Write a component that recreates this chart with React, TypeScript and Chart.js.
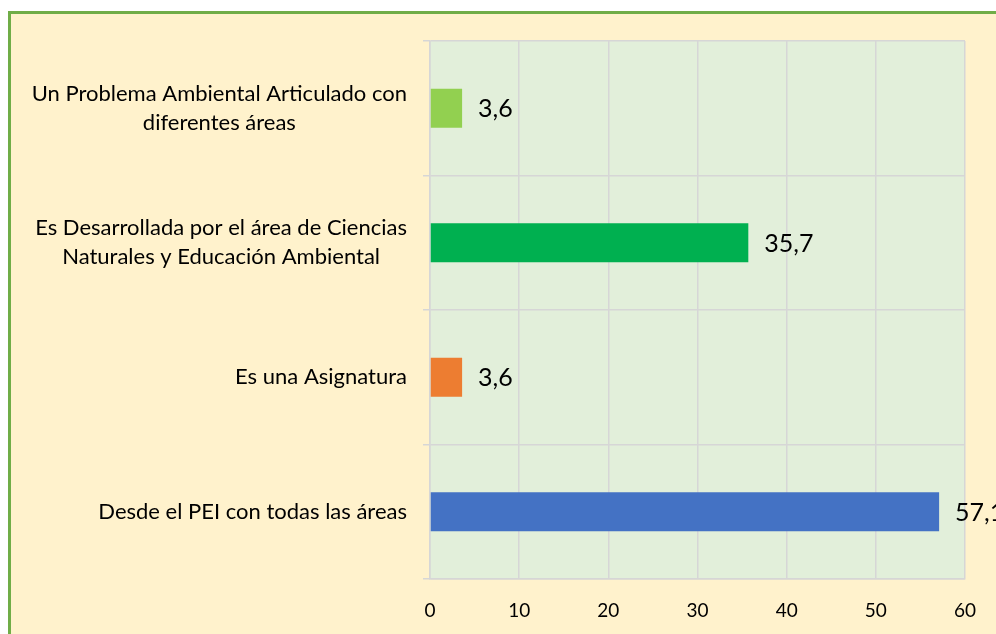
import React, { useEffect, useRef } from "react";
import { Chart, registerables } from "chart.js";

Chart.register(...registerables);

const categories: string[][] = [
  ["Un Problema Ambiental Articulado con", "diferentes áreas"],
  ["Es Desarrollada por el área de Ciencias", "Naturales y Educación Ambiental"],
  ["Es una Asignatura"],
  ["Desde el PEI con todas las áreas"],
];
const values: number[] = [3.6, 35.7, 3.6, 57.1];
const barColors: string[] = ["#92D050", "#00B050", "#ED7D31", "#4472C4"];
const xTicks: number[] = [0, 10, 20, 30, 40, 50, 60];

const FONT = "Lato, 'Open Sans', sans-serif";
const W = 985;
const H = 620;

export default function App() {
  const ref = useRef<HTMLCanvasElement | null>(null);

  useEffect(() => {
    const canvas = ref.current;
    if (!canvas) return;

    const areaBg = {
      id: "areaBg",
      beforeDraw(chart: any) {
        const { ctx, chartArea } = chart;
        ctx.save();
        ctx.fillStyle = "#E2EFDA";
        ctx.fillRect(chartArea.left, chartArea.top, chartArea.right - chartArea.left, chartArea.bottom - chartArea.top);
        ctx.restore();
      },
    };

    const catLabels = {
      id: "catLabels",
      afterDraw(chart: any) {
        const { ctx } = chart;
        const yScale = chart.scales.y;
        ctx.save();
        ctx.font = `22px ${FONT}`;
        ctx.fillStyle = "#000000";
        ctx.textAlign = "center";
        ctx.textBaseline = "middle";
        const rightEdge = chart.chartArea.left - 23;
        const lh = 29;
        categories.forEach((lines, i) => {
          const cy = yScale.getPixelForValue(i);
          const bw = Math.max(...lines.map((l) => ctx.measureText(l).width));
          const cx = rightEdge - bw / 2;
          const y0 = cy - ((lines.length - 1) * lh) / 2;
          lines.forEach((l, j) => ctx.fillText(l, cx, y0 + j * lh));
        });
        ctx.restore();
      },
    };

    const dataLabels = {
      id: "dataLabels",
      afterDatasetsDraw(chart: any) {
        const { ctx } = chart;
        const meta = chart.getDatasetMeta(0);
        ctx.save();
        ctx.font = `25px ${FONT}`;
        ctx.fillStyle = "#000000";
        ctx.textAlign = "left";
        ctx.textBaseline = "middle";
        meta.data.forEach((el: any, i: number) => {
          const txt = values[i].toFixed(1).replace(".", ",");
          ctx.fillText(txt, el.x + 16, el.y + 1);
        });
        ctx.restore();
      },
    };

    const chart = new Chart(canvas, {
      type: "bar",
      data: {
        labels: categories.map((c) => c.join(" ")),
        datasets: [
          {
            data: values,
            backgroundColor: barColors,
            borderWidth: 0,
            barPercentage: 0.58,
            categoryPercentage: 0.5,
          },
        ],
      },
      options: {
        indexAxis: "y",
        animation: false,
        responsive: false,
        devicePixelRatio: 1,
        layout: { padding: { top: 27, right: 29, left: 0, bottom: 0 } },
        plugins: {
          legend: { display: false },
          tooltip: { enabled: false },
          title: { display: false },
        },
        scales: {
          x: {
            type: "linear",
            min: xTicks[0],
            max: xTicks[xTicks.length - 1],
            afterBuildTicks(scale: any) {
              scale.ticks = xTicks.map((v) => ({ value: v }));
            },
            afterFit(scale: any) {
              scale.height = 55;
            },
            grid: { color: "#D6D6D6", lineWidth: 1.5, drawTicks: false },
            border: { color: "#D6D6D6", width: 1.5 },
            ticks: {
              padding: 20,
              color: "#000000",
              font: { family: FONT, size: 19 },
            },
          },
          y: {
            type: "category",
            offset: true,
            afterFit(scale: any) {
              scale.width = 419;
            },
            grid: { color: "#D6D6D6", lineWidth: 1.5, offset: true, drawTicks: true, tickLength: 7 },
            border: { color: "#D6D6D6", width: 1.5 },
            ticks: { display: false },
          },
        },
      },
      plugins: [areaBg, catLabels, dataLabels],
    } as any);

    return () => chart.destroy();
  }, []);

  return (
    <div
      style={{
        position: "fixed",
        left: 8,
        top: 11,
        right: 0,
        bottom: 0,
        overflow: "hidden",
      }}
    >
      <div
        style={{
          borderLeft: "3px solid #70AD47",
          borderTop: "3px solid #70AD47",
          background: "#FFF2CC",
          width: W,
          height: H,
        }}
      >
        <canvas ref={ref} width={W} height={H} style={{ display: "block" }} />
      </div>
    </div>
  );
}
